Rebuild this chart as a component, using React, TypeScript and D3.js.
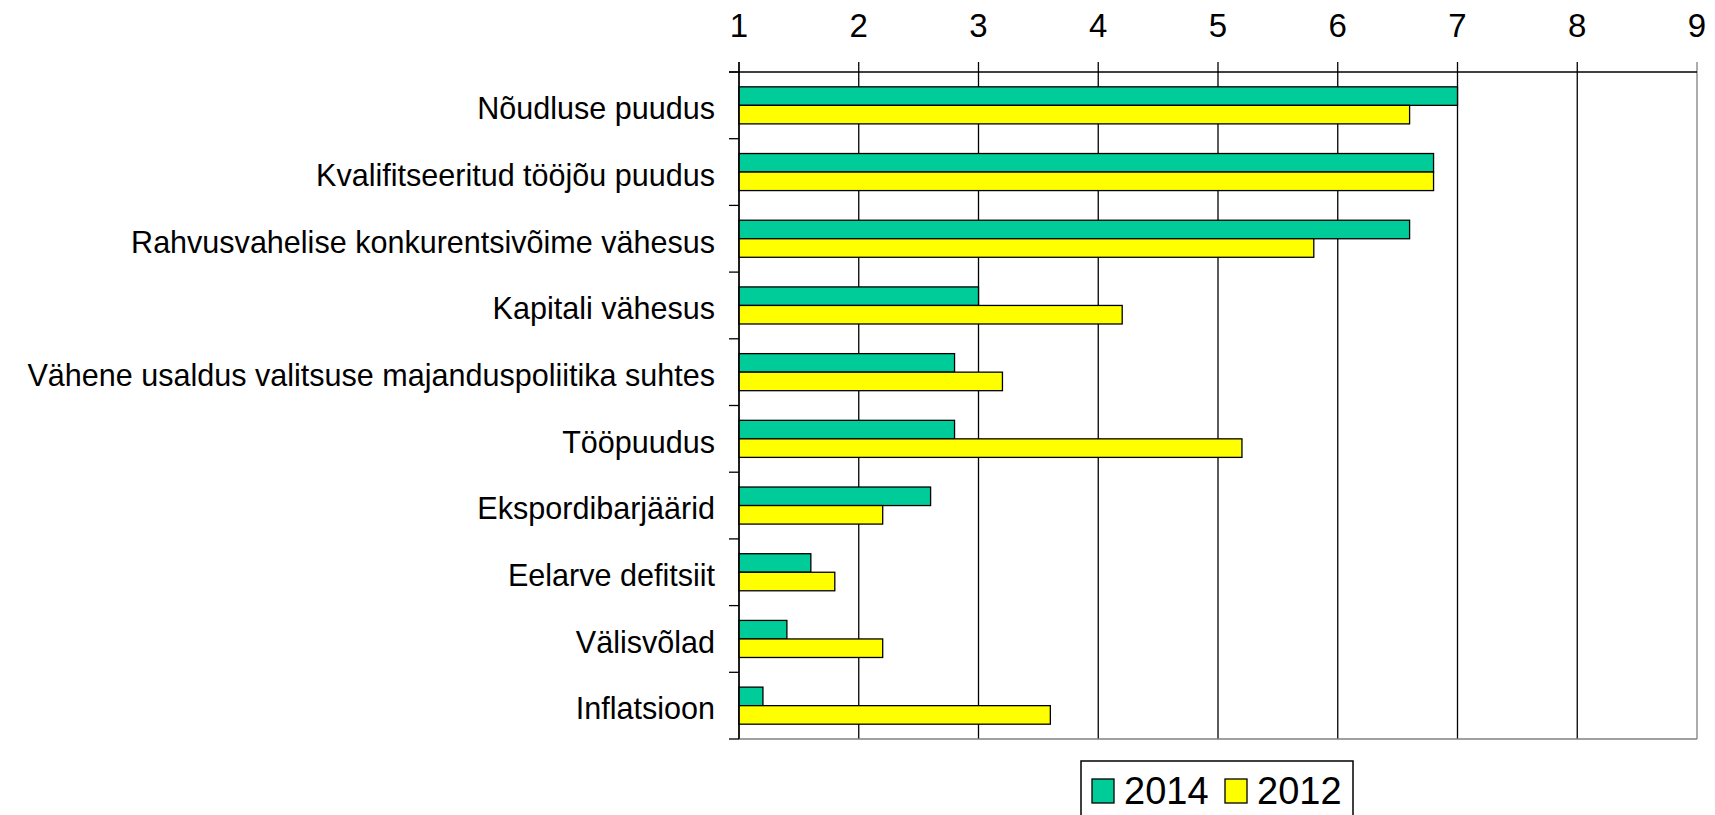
import React, { useRef, useEffect } from 'react';
import * as d3 from 'd3';

const categories = [
  'Nõudluse puudus',
  'Kvalifitseeritud tööjõu puudus',
  'Rahvusvahelise konkurentsivõime vähesus',
  'Kapitali vähesus',
  'Vähene usaldus valitsuse majanduspoliitika suhtes',
  'Tööpuudus',
  'Ekspordibarjäärid',
  'Eelarve defitsiit',
  'Välisvõlad',
  'Inflatsioon',
];
const values2014 = [7.0, 6.8, 6.6, 3.0, 2.8, 2.8, 2.6, 1.6, 1.4, 1.2];
const values2012 = [6.6, 6.8, 5.8, 4.2, 3.2, 5.2, 2.2, 1.8, 2.2, 3.6];
const seriesNames = ['2014', '2012'];
const seriesColors = ['#00cc99', '#ffff00'];
const xTicks = [1, 2, 3, 4, 5, 6, 7, 8, 9];

const FONT = '"Liberation Sans", Arial, Helvetica, sans-serif';

const BarChart = ({ width = 1715, height = 815 }) => {
  const svgRef = useRef<SVGSVGElement>(null);

  useEffect(() => {
    const svg = d3.select(svgRef.current);
    svg.selectAll('*').remove();

    const left = 739, right = 1697, top = 72, bottom = 739;

    const x = d3.scaleLinear().domain([1, 9]).range([left, right]);
    const y0 = d3.scaleBand<string>().domain(categories).range([top, bottom]);
    const y1 = d3.scaleBand<string>().domain(seriesNames).range([0, y0.bandwidth()]).paddingOuter(0.8);

    // vertical gridlines + top ticks
    svg.append('g')
      .selectAll('line')
      .data(xTicks)
      .enter()
      .append('line')
      .attr('x1', (d) => x(d))
      .attr('x2', (d) => x(d))
      .attr('y1', top - 10)
      .attr('y2', bottom)
      .attr('stroke', (d) => (d === 9 ? '#808080' : '#000'))
      .attr('stroke-width', 1.3);

    // tick labels on top
    svg.append('g')
      .selectAll('text')
      .data(xTicks)
      .enter()
      .append('text')
      .attr('x', (d) => x(d))
      .attr('y', 37)
      .attr('text-anchor', 'middle')
      .style('font-family', FONT)
      .style('font-size', '33px')
      .text((d) => d);

    // top axis line
    svg.append('line')
      .attr('x1', left - 10).attr('x2', right)
      .attr('y1', top).attr('y2', top)
      .attr('stroke', '#000').attr('stroke-width', 1.3);

    // bottom axis line
    svg.append('line')
      .attr('x1', left).attr('x2', right)
      .attr('y1', bottom).attr('y2', bottom)
      .attr('stroke', '#808080').attr('stroke-width', 1.3);

    // category ticks
    const boundaries = categories.map((c) => y0(c) as number).concat([bottom]);
    svg.append('g')
      .selectAll('line')
      .data(boundaries)
      .enter()
      .append('line')
      .attr('x1', left - 10).attr('x2', left)
      .attr('y1', (d) => d).attr('y2', (d) => d)
      .attr('stroke', '#000').attr('stroke-width', 1.3);

    // bars
    const rows = categories.map((c, i) => ({ c, vals: [values2014[i], values2012[i]] }));
    const groups = svg.append('g')
      .selectAll('g')
      .data(rows)
      .enter()
      .append('g')
      .attr('transform', (d) => `translate(0, ${y0(d.c)})`);

    groups.selectAll('rect')
      .data((d) => d.vals.map((v, k) => ({ v, k })))
      .enter()
      .append('rect')
      .attr('x', x(1))
      .attr('y', (d) => y1(seriesNames[d.k]) as number)
      .attr('width', (d) => x(d.v) - x(1))
      .attr('height', y1.bandwidth())
      .attr('fill', (d) => seriesColors[d.k])
      .attr('stroke', '#000')
      .attr('stroke-width', 1.3);

    // left axis line
    svg.append('line')
      .attr('x1', left).attr('x2', left)
      .attr('y1', top - 10).attr('y2', bottom)
      .attr('stroke', '#000').attr('stroke-width', 1.3);

    // category labels (font in the original is a bit narrower)
    svg.append('g')
      .selectAll('text')
      .data(categories)
      .enter()
      .append('text')
      .attr('transform', (d) => `translate(715, ${(y0(d) as number) + y0.bandwidth() / 2}) scale(0.955, 1)`)
      .attr('dy', '0.43em')
      .attr('text-anchor', 'end')
      .style('font-family', FONT)
      .style('font-size', '32px')
      .text((d) => d);

    // legend
    const legend = svg.append('g');
    legend.append('rect')
      .attr('x', 1081).attr('y', 761)
      .attr('width', 272).attr('height', 70)
      .attr('fill', '#fff').attr('stroke', '#000').attr('stroke-width', 1.5);
    const legendX = [1092, 1225];
    seriesNames.forEach((name, k) => {
      legend.append('rect')
        .attr('x', legendX[k]).attr('y', 779)
        .attr('width', 22).attr('height', 24)
        .attr('fill', seriesColors[k]).attr('stroke', '#000').attr('stroke-width', 1.3);
      legend.append('text')
        .attr('x', legendX[k] + 32).attr('y', 804)
        .style('font-family', FONT)
        .style('font-size', '38px')
        .text(name);
    });
  }, [width, height]);

  return (
    <svg
      ref={svgRef}
      width={width}
      height={height}
      style={{ position: 'absolute', left: 0, top: 0, background: '#fff' }}
    ></svg>
  );
};

export default function App() {
  return <BarChart />;
}
